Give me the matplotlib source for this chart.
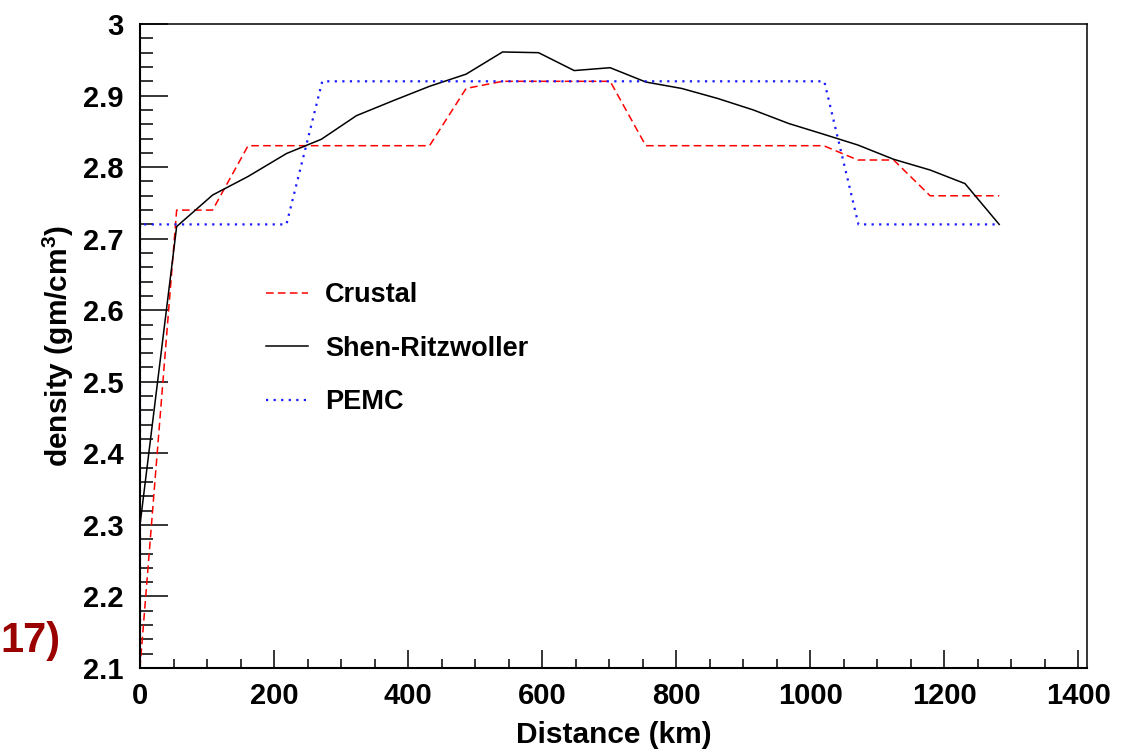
#!/usr/bin/env python3

import matplotlib

matplotlib.use("Agg")
import matplotlib.pyplot as plt
from matplotlib.ticker import MultipleLocator

plt.rcParams["font.family"] = ["Liberation Sans", "DejaVu Sans"]
plt.rcParams["font.weight"] = "bold"
plt.rcParams["mathtext.fontset"] = "custom"
plt.rcParams["mathtext.rm"] = "Liberation Sans"
plt.rcParams["mathtext.bf"] = "Liberation Sans:bold"

# distance grid (km) along the profile
distance = [0, 54.7, 108.3, 161.3, 218.5, 270.6, 323, 378, 432, 486.6, 541, 594.7,
            647.9, 701.5, 754.7, 808.3, 862, 915, 968, 1020, 1071, 1124.5, 1179, 1231, 1282]

crustal = [2.10, 2.74, 2.74, 2.83, 2.83, 2.83, 2.83, 2.83, 2.83, 2.91, 2.92, 2.92,
           2.92, 2.92, 2.83, 2.83, 2.83, 2.83, 2.83, 2.83, 2.81, 2.81, 2.76, 2.76, 2.76]

shen_ritzwoller = [2.300, 2.717, 2.761, 2.787, 2.819, 2.839, 2.872, 2.893, 2.913, 2.930, 2.961, 2.960,
                   2.935, 2.939, 2.919, 2.910, 2.896, 2.880, 2.861, 2.846, 2.831, 2.811, 2.796, 2.777, 2.720]

pemc_distance = [0, 0, 54.7, 108.3, 161.3, 218.5, 272, 323, 378, 432, 486.6, 541, 594.7,
                 647.9, 701.5, 754.7, 808.3, 862, 915, 968, 1021, 1072, 1124.5, 1179, 1231, 1282]
pemc = [2.05, 2.72, 2.72, 2.72, 2.72, 2.72, 2.92, 2.92, 2.92, 2.92, 2.92, 2.92, 2.92,
        2.92, 2.92, 2.92, 2.92, 2.92, 2.92, 2.92, 2.92, 2.72, 2.72, 2.72, 2.72, 2.72]

fig = plt.figure(figsize=(11.4, 7.52), dpi=100)
ax = fig.add_axes([0.1228, 0.1117, 0.8307, 0.8563])

ax.plot(distance, crustal, color="#ff0000", linestyle=(0, (5, 2.8)), linewidth=1.1, label="Crustal")
ax.plot(distance, shen_ritzwoller, color="black", linewidth=1.1, label="Shen-Ritzwoller")
ax.plot(pemc_distance, pemc, color="#1a1aff", linestyle=(0, (1, 2.4)), linewidth=1.6, label="PEMC")

ax.set_xlim(0, 1413)
ax.set_ylim(2.1, 3.0)
ax.xaxis.set_major_locator(MultipleLocator(200))
ax.xaxis.set_minor_locator(MultipleLocator(50))
ax.yaxis.set_major_locator(MultipleLocator(0.1))
ax.yaxis.set_minor_locator(MultipleLocator(0.02))
ax.set_yticks([2.1, 2.2, 2.3, 2.4, 2.5, 2.6, 2.7, 2.8, 2.9, 3.0])
ax.set_yticklabels(["2.1", "2.2", "2.3", "2.4", "2.5", "2.6", "2.7", "2.8", "2.9", "3"])

ax.tick_params(axis="both", which="both", direction="in", top=False, right=False,
               width=1.1, labelsize=21)
ax.tick_params(axis="x", which="major", length=13, pad=10)
ax.tick_params(axis="x", which="minor", length=6.5)
ax.tick_params(axis="y", which="major", length=20, pad=12)
ax.tick_params(axis="y", which="minor", length=9.5)
for side, spine in ax.spines.items():
    spine.set_linewidth(1.5 if side in ("left", "bottom") else 1.1)

ax.set_xlabel("Distance (km)", fontsize=21.5, fontweight="bold", labelpad=8)
ax.set_ylabel(r"density (gm/cm$^{\mathbf{3}}$)", fontsize=21.5, fontweight="bold", labelpad=5)

ax.legend(loc="upper left", bbox_to_anchor=(0.107, 0.637), frameon=False, fontsize=19.5,
          handlelength=1.55, handletextpad=0.65, labelspacing=1.02)

fig.text(0.0, 0.147, "17)", color="#9b0000", fontsize=30, fontweight="bold", ha="left", va="center")

fig.savefig("out.png", dpi=100)
